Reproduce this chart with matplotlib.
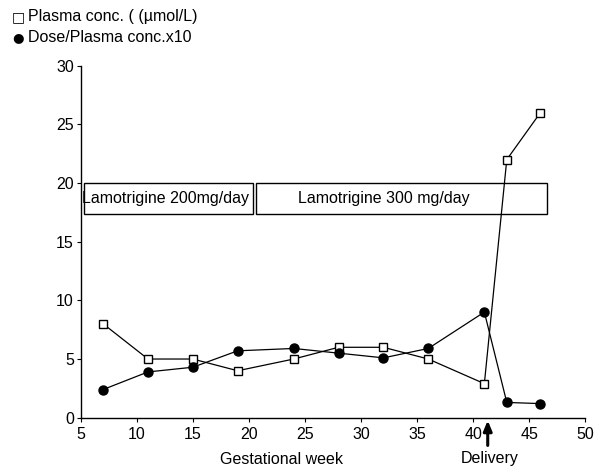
import matplotlib.pyplot as plt
from matplotlib.patches import Rectangle

plt.rcParams['font.family'] = ['Liberation Sans', 'DejaVu Sans']

# data
weeks_plasma = [7, 11, 15, 19, 24, 28, 32, 36, 41, 43, 46]
plasma_conc = [8, 5, 5, 4, 5, 6, 6, 5, 2.9, 22, 26]

weeks_dose = [7, 11, 15, 19, 24, 28, 32, 36, 41, 43, 46]
dose_ratio = [2.4, 3.9, 4.3, 5.7, 5.9, 5.5, 5.1, 5.9, 9.0, 1.3, 1.2]

# treatment periods: (start week, end week, label)
periods = [(5.3, 20.4, 'Lamotrigine 200mg/day'),
           (20.6, 46.6, 'Lamotrigine 300 mg/day')]
box_low, box_high = 17.4, 20.0
delivery_week = 41.3

fs = 11.5

fig = plt.figure(figsize=(5.96, 4.67), dpi=100)
ax = fig.add_axes([0.1354, 0.1056, 0.982 - 0.1354, 0.8593 - 0.1056])

# boxes for dose periods
for i, (x0, x1, label) in enumerate(periods):
    ax.add_patch(Rectangle((x0, box_low), x1 - x0, box_high - box_low,
                           facecolor='white', edgecolor='black', lw=1.0, zorder=1))
    if i == 0:
        ax.text(x0 - 0.2, (box_low + box_high) / 2, label, ha='left', va='center',
                fontsize=fs, zorder=2)
    else:
        ax.text(32, (box_low + box_high) / 2, label, ha='center', va='center',
                fontsize=fs, zorder=2)

ax.plot(weeks_plasma, plasma_conc, '-s', color='black', mfc='white', mec='black',
        ms=6, lw=0.9, mew=1.0, zorder=3)
ax.plot(weeks_dose, dose_ratio, '-o', color='black', ms=6.5, lw=0.9, zorder=4)

ax.set_xlim(5, 50)
ax.set_ylim(0, 30)
ax.set_xticks(range(5, 51, 5))
ax.set_yticks(range(0, 31, 5))
ax.spines['top'].set_visible(False)
ax.spines['right'].set_visible(False)
ax.tick_params(direction='out', length=3, width=0.8, labelsize=fs)
ax.tick_params(axis='x', pad=4)
ax.tick_params(axis='y', pad=2)
for s in ['left', 'bottom']:
    ax.spines[s].set_linewidth(1.0)

# axis label and delivery arrow
fig.text(282 / 596, 1 - 459 / 467, 'Gestational week', ha='center', va='center', fontsize=fs)
fig.text(490 / 596, 1 - 459 / 467, 'Delivery', ha='center', va='center', fontsize=fs)
ax.annotate('', xy=(delivery_week, 0), xycoords='data',
            xytext=(delivery_week, -2.6), textcoords='data',
            arrowprops=dict(arrowstyle='-|>,head_width=0.25,head_length=0.6',
                            color='black', lw=2.2), annotation_clip=False)

# legend lines at top left
fig.text(12 / 596, 1 - 17 / 467, '\u25a1', ha='left', va='center', fontsize=10,
         family=['DejaVu Sans'])
fig.text(28 / 596, 1 - 17 / 467, 'Plasma conc. ( (\u00b5mol/L)', ha='left', va='center',
         fontsize=fs)
fig.text(12 / 596, 1 - 38 / 467, '\u25cf', ha='left', va='center', fontsize=9.5,
         family=['DejaVu Sans'])
fig.text(28 / 596, 1 - 38 / 467, 'Dose/Plasma conc.x10', ha='left', va='center',
         fontsize=fs)

fig.savefig('out.png', dpi=100)
